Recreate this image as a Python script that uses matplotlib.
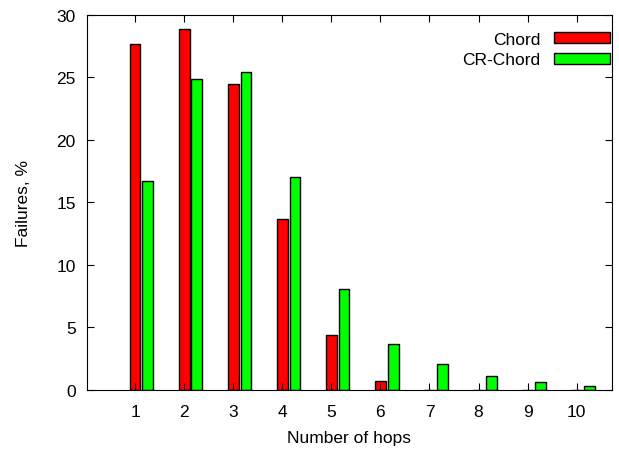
import numpy as np
import matplotlib
matplotlib.use("Agg")
import matplotlib.pyplot as plt

hops = [1, 2, 3, 4, 5, 6, 7, 8, 9, 10]
chord = [27.7, 28.9, 24.5, 13.7, 4.4, 0.7, 0, 0, 0, 0]
cr_chord = [16.7, 24.9, 25.4, 17.0, 8.1, 3.7, 2.1, 1.1, 0.6, 0.3]

plt.rcParams["font.family"] = ["Liberation Sans", "DejaVu Sans"]
fs = 12.5

fig = plt.figure(figsize=(6.19, 4.52), dpi=100)
ax = fig.add_axes([0.1405, 0.135, 0.8482, 0.8296])

x = np.array(hops, dtype=float)
w = 0.22
ax.bar(x, chord, w, color="#ff0000", edgecolor="black", linewidth=1, label="Chord")
ax.bar(x + 0.26, cr_chord, w, color="#00ff00", edgecolor="black", linewidth=1, label="CR-Chord")

ax.set_xlim(0.02, 10.72)
ax.set_ylim(0, 30)
ax.set_xticks(hops)
ax.set_yticks(range(0, 31, 5))
ax.tick_params(direction="in", top=True, right=True, labelsize=fs, length=5)
ax.tick_params(axis="x", pad=10)
ax.tick_params(axis="y", pad=8)
ax.set_xlabel("Number of hops", fontsize=fs, labelpad=8)
ax.set_ylabel("Failures, %", fontsize=fs, labelpad=18)

ax.legend(loc="upper right", bbox_to_anchor=(0.9962, 0.955), frameon=False,
          markerfirst=False, fontsize=fs, handlelength=3.2, handleheight=0.6,
          labelspacing=0.32, borderaxespad=0, borderpad=0, handletextpad=0.8)

fig.savefig("out.png", dpi=100)
